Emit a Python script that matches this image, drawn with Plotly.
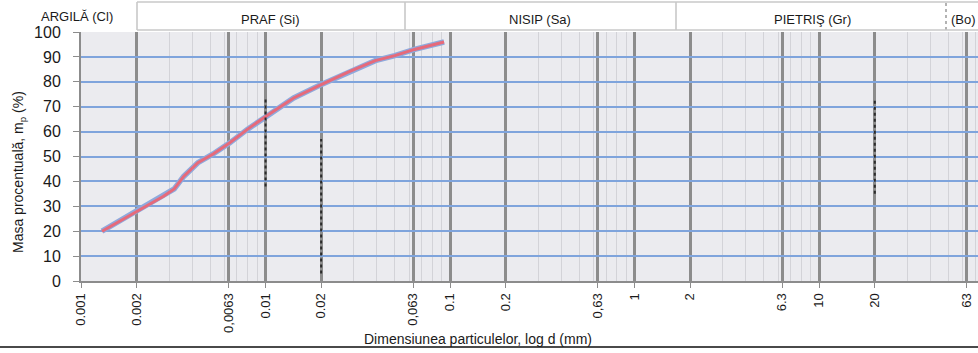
import plotly.graph_objects as go

# grain size curve: diameter d (mm) vs percent passing
diameter_mm = [0.0013, 0.0020, 0.0028, 0.0032, 0.0036, 0.0043, 0.0052, 0.0064,
               0.0080, 0.0102, 0.0142, 0.0195, 0.0282, 0.0393, 0.0501, 0.0641, 0.0927]
percent_passing = [20, 28, 34, 37, 42, 47.5, 51, 55.5,
                   61, 66.5, 73.5, 78.5, 84, 88.5, 90.5, 93, 96]

tick_values = [0.001, 0.002, 0.0063, 0.01, 0.02, 0.063, 0.1, 0.2, 0.63, 1, 2, 6.3, 10, 20, 63]
tick_labels = ["0.001", "0.002", "0,0063", "0.01", "0.02", "0,063", "0.1", "0.2", "0,63",
               "1", "2", "6.3", "10", "20", "63"]
y_ticks = list(range(0, 101, 10))

soil_classes = ["ARGILĂ (Cl)", "PRAF (Si)", "NISIP (Sa)", "PIETRIŞ (Gr)", "(Bo)"]

FONT = "Liberation Sans, Arial, sans-serif"
W, H = 978, 353
PLOT_LEFT, PLOT_TOP, PLOT_BOTTOM = 81, 32, 281   # page pixels
L, T, B = PLOT_LEFT, PLOT_TOP, H - PLOT_BOTTOM
PW, PH = W - L, PLOT_BOTTOM - PLOT_TOP


def px_x(px):
    """Page pixel column -> paper x."""
    return (px - PLOT_LEFT) / PW


def px_y(py):
    """Page pixel row -> paper y."""
    return (PLOT_BOTTOM - py) / PH


# light minor grid: 1..9 within every decade
minor_vals = [m * 10.0 ** e for e in range(-3, 2) for m in range(2, 10)]

fig = go.Figure()
# the scanned curve is red with a bluish fringe
fig.add_trace(go.Scatter(
    x=diameter_mm, y=percent_passing, mode="lines",
    line=dict(color="#8fa9dc", width=5.5), hoverinfo="skip", showlegend=False,
))
fig.add_trace(go.Scatter(
    x=diameter_mm, y=percent_passing, mode="lines",
    line=dict(color="#e66a7a", width=3), showlegend=False,
    name="Curba granulometrică",
))

shapes = []
# header boxes for the soil classes
box_left = [137, 405, 676, 946]
for i, bx in enumerate(box_left):
    shapes.append(dict(
        type="line", xref="paper", yref="paper",
        x0=px_x(bx), x1=px_x(bx), y0=px_y(30), y1=px_y(2),
        line=dict(color="#9a9a9a" if i == 3 else "#c4c4c4", width=1.5,
                  dash="dot" if i == 3 else "solid"),
    ))
shapes.append(dict(type="line", xref="paper", yref="paper",
                   x0=px_x(137), x1=1, y0=px_y(2), y1=px_y(2),
                   line=dict(color="#c8c8c8", width=1.5)))
shapes.append(dict(type="line", xref="paper", yref="paper",
                   x0=px_x(137), x1=1, y0=px_y(30), y1=px_y(30),
                   line=dict(color="#c8c8c8", width=1.5)))
# pencil marks visible on the scan
for xv, y0, y1 in [(0.01, 38, 73), (0.02, 3, 57), (20, 35, 73)]:
    shapes.append(dict(type="line", xref="x", yref="y", x0=xv, x1=xv, y0=y0, y1=y1,
                       line=dict(color="#2b2b2b", width=2, dash="dot")))
# page border line under the chart
shapes.append(dict(type="line", xref="paper", yref="paper",
                   x0=px_x(0), x1=1, y0=px_y(347), y1=px_y(347),
                   line=dict(color="#4a4a4a", width=2)))

class_x = [77, 270, 540, 812, 963]
class_y = [16, 19, 19, 19, 19]
annotations = [
    dict(text=name, xref="paper", yref="paper", x=px_x(cx), y=px_y(cy),
         xanchor="center", yanchor="middle", showarrow=False,
         font=dict(family=FONT, size=13, color="#1a1a1a"))
    for name, cx, cy in zip(soil_classes, class_x, class_y)
]
annotations.append(dict(
    text="Dimensiunea particulelor, log d (mm)", xref="paper", yref="paper",
    x=px_x(478), y=px_y(339), xanchor="center", yanchor="middle", showarrow=False,
    font=dict(family=FONT, size=14, color="#1a1a1a"),
))
annotations.append(dict(
    text="Masa procentuală, m<sub>p</sub> (%)", xref="paper", yref="paper",
    x=px_x(19), y=px_y(172), xanchor="center", yanchor="middle",
    textangle=-90, showarrow=False,
    font=dict(family=FONT, size=14, color="#1a1a1a"),
))

fig.update_layout(
    width=W, height=H,
    margin=dict(l=L, r=0, t=T, b=B, autoexpand=False),
    paper_bgcolor="white",
    plot_bgcolor="#ebebef",
    font=dict(family=FONT, color="#1a1a1a"),
    shapes=shapes,
    annotations=annotations,
    xaxis=dict(
        type="log", range=[-3, 1.86], automargin=False,
        tickvals=tick_values, ticktext=tick_labels, tickangle=-90,
        tickfont=dict(size=13), ticklabeloverflow="allow",
        showgrid=True, gridcolor="#8c8c8c", gridwidth=2.5,
        showline=True, linecolor="#8c8c8c", linewidth=2,
        ticks="outside", ticklen=5, tickcolor="#8c8c8c",
        minor=dict(tickvals=minor_vals, showgrid=True, gridcolor="#d3d3d8", gridwidth=1),
        zeroline=False,
    ),
    yaxis=dict(
        range=[0, 100], tickvals=y_ticks, automargin=False,
        tickfont=dict(size=16),
        showgrid=True, gridcolor="#7fa4dc", gridwidth=2,
        showline=True, linecolor="#8c8c8c", linewidth=2,
        ticks="outside", ticklen=6, tickcolor="#8c8c8c",
        ticklabelstandoff=9,
        zeroline=False,
    ),
)

# drop the default body margin so the figure fills the window exactly
fig.write_html(
    "out.html",
    config={"displayModeBar": False},
    post_script="document.body.style.margin='0';document.body.style.overflow='hidden';",
)
